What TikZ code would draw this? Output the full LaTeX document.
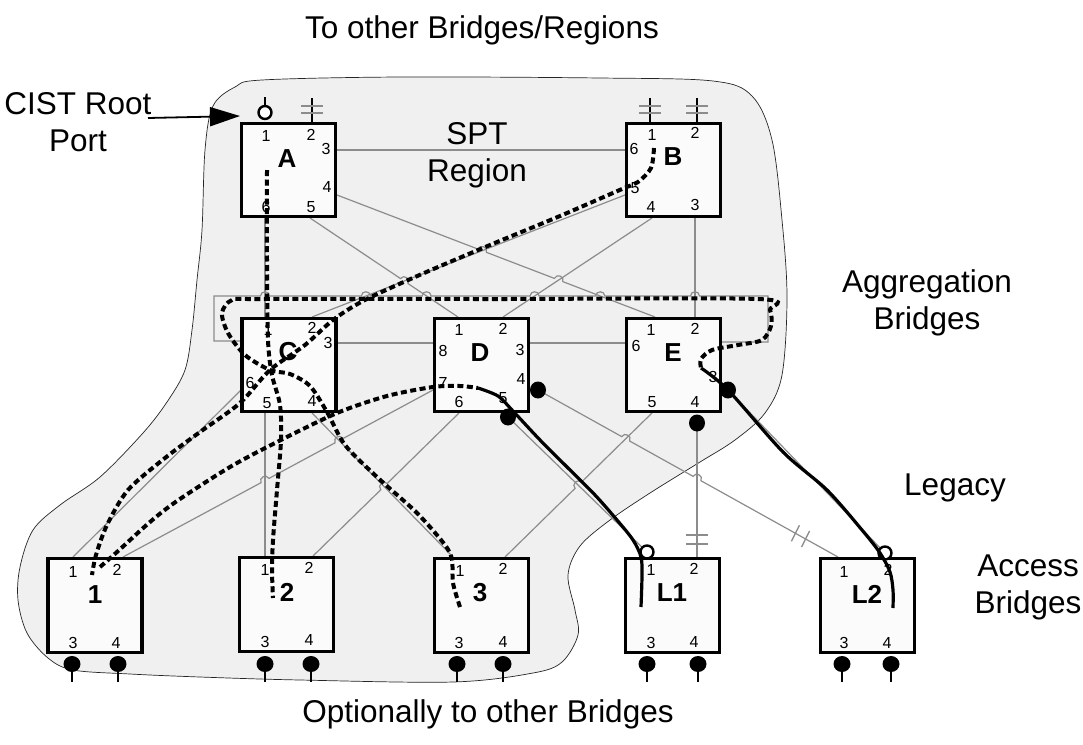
\documentclass[tikz,border=0pt]{standalone}
\usepackage{fontspec}
\setmainfont{Liberation Sans}
\usetikzlibrary{calc,arrows.meta}
\definecolor{regionfill}{gray}{0.94}
\definecolor{linkgray}{gray}{0.55}
\definecolor{boxfill}{gray}{0.985}
\tikzset{
  region/.style={draw=black!85, line width=0.7pt, fill=regionfill},
  link/.style={draw=linkgray, line width=1.2pt},
  tick/.style={draw=linkgray, line width=1.3pt},
  stub/.style={draw=black, line width=1.6pt},
  tree/.style={draw=black, line width=4pt, dash pattern=on 6pt off 3.5pt},
  legacy/.style={draw=black, line width=3.2pt},
  bridge/.style={draw=black, line width=3.2pt, fill=boxfill, minimum width=94pt, minimum height=93.5pt, inner sep=0pt},
  portlbl/.style={inner sep=0pt, font=\fontsize{16}{16}\selectfont},
  bname/.style={inner sep=0pt, font=\bfseries\fontsize{26}{27}\selectfont},
  caption/.style={inner sep=0pt, align=center, font=\fontsize{31.5}{37}\selectfont},
  hop/.style={bend left=90, looseness=1.6},
  opencirc/.style={draw=black, line width=2.4pt, fill=white},
}
\begin{document}
\begin{tikzpicture}[x=1pt,y=-1pt]
\useasboundingbox (0,0) rectangle (1083,744);
% ---------------- region
\draw[region] plot[smooth cycle, tension=0.55] coordinates {
 (202,230) (205,150) (213,106) (235,87) (262,80) (400,77) (600,78) (713,81) (752,96)
 (772,140) (782,220) (787,297) (782,375) (765,413) (735,440) (700,462) (650,493)
 (610,520) (580,546) (568,575) (575,610) (578,635) (562,662) (533,673) (453,682)
 (300,680) (200,677) (130,674) (73,670) (48,658) (27,633) (18,600) (20,567)
 (33,530) (60,505) (100,477) (143,433) (167,402) (185,370) (192,330) (197,280)};
% ---------------- port coordinates
\coordinate (A1) at (265,122); \coordinate (A2) at (312,122); \coordinate (A3) at (337,150);
\coordinate (A4) at (337,195); \coordinate (A5) at (310,218); \coordinate (A6) at (265,218);
\coordinate (B1) at (650,122); \coordinate (B2) at (697,122); \coordinate (B6) at (625,150);
\coordinate (B5) at (625,195); \coordinate (B4) at (652,218); \coordinate (B3) at (695,218);
\coordinate (C1) at (265,317); \coordinate (C2) at (312,317); \coordinate (C3) at (337,343);
\coordinate (C4) at (312,413); \coordinate (C5) at (265,413); \coordinate (C6) at (241,390);
\coordinate (C7) at (241,341);
\coordinate (D1) at (458,317); \coordinate (D2) at (503,317); \coordinate (D8) at (433,343);
\coordinate (D3) at (530,343); \coordinate (D7) at (433,390); \coordinate (D6) at (459,413);
\coordinate (D4d) at (538,390); \coordinate (D5d) at (508,417);
\coordinate (E1) at (655,317); \coordinate (E2) at (695,317); \coordinate (E6) at (625,343);
\coordinate (E5) at (652,413); \coordinate (E4d) at (697,423); \coordinate (E3d) at (728,390);
\coordinate (E7) at (722,342);
\coordinate (P1a) at (73,557); \coordinate (P1b) at (123,557);
\coordinate (P2a) at (265,556); \coordinate (P2b) at (313,556);
\coordinate (P3a) at (453,557); \coordinate (P3b) at (505,557);
\coordinate (L1a) at (647,552); \coordinate (L1b) at (697,557);
\coordinate (L2a) at (838,557); \coordinate (L2b) at (885,553);
\coordinate (RLb) at (214,341); \coordinate (RL) at (214,296);
\coordinate (RR) at (768,296); \coordinate (RRb) at (768,342);
% hop points
\coordinate (h1) at (intersection of A4--E1 and B5--C2);
\coordinate (h2) at (intersection of A5--D1 and B5--C2);
\coordinate (h3) at (intersection of A4--E1 and B4--D2);
\coordinate (r1) at (intersection of RL--RR and A6--C1);
\coordinate (r2) at (intersection of RL--RR and B5--C2);
\coordinate (r3) at (intersection of RL--RR and A5--D1);
\coordinate (r4) at (intersection of RL--RR and B4--D2);
\coordinate (r5) at (intersection of RL--RR and A4--E1);
\coordinate (r6) at (intersection of RL--RR and B3--E2);
\coordinate (g1) at (intersection of P1b--D7 and C5--P2a);
\coordinate (g2) at (intersection of P1b--D7 and C4--P3a);
\coordinate (g3) at (intersection of P2b--D6 and C4--P3a);
\coordinate (g4) at (intersection of P3b--E5 and D5d--L1a);
\coordinate (g5) at (intersection of D4d--L2a and P3b--E5);
\coordinate (g6) at (intersection of D4d--L2a and E4d--L1b);
% ---------------- gray links
\draw[link] (A3) -- (B6);
\draw[link] (A6) -- (C1);
\draw[link] (B3) -- (E2);
\draw[link] (B5) -- (C2);
\draw[link] (B4) -- (D2);
\draw[link] (A5) -- ($(h2)!4.5pt!(A5)$) to[hop] ($(h2)!-4.5pt!(A5)$) -- (D1);
\draw[link] (A4) -- ($(h1)!4.5pt!(A4)$) to[hop] ($(h1)!-4.5pt!(A4)$)
                 -- ($(h3)!4.5pt!(A4)$) to[hop] ($(h3)!-4.5pt!(A4)$) -- (E1);
\draw[link] (C7) -- (RLb) -- (RL)
   -- ($(r1)!4.5pt!(RL)$) to[hop] ($(r1)!-4.5pt!(RL)$)
   -- ($(r2)!4.5pt!(RL)$) to[hop] ($(r2)!-4.5pt!(RL)$)
   -- ($(r3)!4.5pt!(RL)$) to[hop] ($(r3)!-4.5pt!(RL)$)
   -- ($(r4)!4.5pt!(RL)$) to[hop] ($(r4)!-4.5pt!(RL)$)
   -- ($(r5)!4.5pt!(RL)$) to[hop] ($(r5)!-4.5pt!(RL)$)
   -- ($(r6)!4.5pt!(RL)$) to[hop] ($(r6)!-4.5pt!(RL)$)
   -- (RR) -- (RRb) -- (E7);
\draw[link] (C3) -- (D8);
\draw[link] (D3) -- (E6);
\draw[link] (C6) -- (P1a);
\draw[link] (C5) -- (P2a);
\draw[link] (C4) -- (P3a);
\draw[link] (P1b) -- ($(g1)!4.5pt!(P1b)$) to[hop] ($(g1)!-4.5pt!(P1b)$)
                  -- ($(g2)!4.5pt!(P1b)$) to[hop] ($(g2)!-4.5pt!(P1b)$) -- (D7);
\draw[link] (P2b) -- ($(g3)!4.5pt!(P2b)$) to[hop] ($(g3)!-4.5pt!(P2b)$) -- (D6);
\draw[link] (P3b) -- ($(g4)!4.5pt!(P3b)$) to[hop] ($(g4)!-4.5pt!(P3b)$) -- (E5);
\draw[link] (D5d) -- (L1a);
\draw[link] (D4d) -- ($(g5)!4.5pt!(D4d)$) to[hop] ($(g5)!-4.5pt!(D4d)$)
                  -- ($(g6)!4.5pt!(D4d)$) to[hop] ($(g6)!-4.5pt!(D4d)$) -- (L2a);
\draw[link] (E4d) -- (L1b);
\draw[link] (E3d) -- (L2b);
% slashes and ticks on legacy links
\draw[tick] ($(D4d)!0.858!(L2a)$) +(-4,8) -- +(4,-8);
\draw[tick] ($(D4d)!0.892!(L2a)$) +(-4,8) -- +(4,-8);
\draw[tick] ($(L1b)+(-11,-22)$) -- ++(22,0);
\draw[tick] ($(L1b)+(-11,-13)$) -- ++(22,0);
% ---------------- bridges
\node[bridge] (A) at (288.5,170) {};
\node[bridge] (B) at (673.5,170) {};
\node[bridge] (C) at (289,365) {};
\node[bridge] (D) at (481.5,365) {};
\node[bridge] (E) at (673.5,365) {};
\node[bridge] (S1) at (95,605.5) {};
\node[bridge] (S2) at (286.5,604.5) {};
\node[bridge] (S3) at (481.5,605.5) {};
\node[bridge] (SL1) at (672.5,605.5) {};
\node[bridge] (SL2) at (867.5,605.5) {};
% names
\node[bname] (nA) at (287,159) {A};
\node[bname] (nB) at (673,157) {B};
\node[bname] (nC) at (288,352) {C};
\node[bname] (nD) at (480,353) {D};
\node[bname] (nE) at (673,353) {E};
\node[bname] (n1) at (95,595) {1};
\node[bname] (n2) at (287,592) {2};
\node[bname] (n3) at (480,593) {3};
\node[bname] (nL1) at (672,593) {L1};
\node[bname] (nL2) at (867,594) {L2};
% port numbers
\node[portlbl] (a1) at (266,136) {1}; \node[portlbl] (a2) at (311,135) {2};
\node[portlbl] (a3) at (326,149) {3}; \node[portlbl] (a4) at (327,187) {4};
\node[portlbl] (a5) at (311,207) {5}; \node[portlbl] (a6) at (266,207) {6};
\node[portlbl] (b1) at (652,135) {1}; \node[portlbl] (b2) at (695,133) {2};
\node[portlbl] (b6) at (634,149) {6}; \node[portlbl] (b5) at (635,188) {5};
\node[portlbl] (b4) at (651,207) {4}; \node[portlbl] (b3) at (695,205) {3};
\node[portlbl] (c1) at (268,330) {1}; \node[portlbl] (c2) at (312,328) {2};
\node[portlbl] (c3) at (328,343) {3}; \node[portlbl] (c6) at (250,383) {6};
\node[portlbl] (c5) at (267,403) {5}; \node[portlbl] (c4) at (312,401) {4};
\node[portlbl] (d1) at (459,330) {1}; \node[portlbl] (d2) at (503,329) {2};
\node[portlbl] (d8) at (443,351) {8}; \node[portlbl] (d3) at (520,350) {3};
\node[portlbl] (d7) at (443,383) {7}; \node[portlbl] (d4) at (521,379) {4};
\node[portlbl] (d6) at (459,402) {6}; \node[portlbl] (d5) at (503,398) {5};
\node[portlbl] (e1) at (651,330) {1}; \node[portlbl] (e2) at (695,329) {2};
\node[portlbl] (e6) at (636,346) {6}; \node[portlbl] (e3) at (713,377) {3};
\node[portlbl] (e5) at (652,402) {5}; \node[portlbl] (e4) at (695,402) {4};
\node[portlbl] (s11) at (73,572) {1}; \node[portlbl] (s12) at (117,570) {2};
\node[portlbl] (s13) at (73,643) {3}; \node[portlbl] (s14) at (116,643) {4};
\node[portlbl] (s21) at (265,570) {1}; \node[portlbl] (s22) at (309,568) {2};
\node[portlbl] (s23) at (265,642) {3}; \node[portlbl] (s24) at (309,640) {4};
\node[portlbl] (s31) at (460,571) {1}; \node[portlbl] (s32) at (503,569) {2};
\node[portlbl] (s33) at (459,643) {3}; \node[portlbl] (s34) at (503,642) {4};
\node[portlbl] (l11) at (651,570) {1}; \node[portlbl] (l12) at (694,569) {2};
\node[portlbl] (l13) at (651,643) {3}; \node[portlbl] (l14) at (694,642) {4};
\node[portlbl] (l21) at (844,572) {1}; \node[portlbl] (l22) at (888,570) {2};
\node[portlbl] (l23) at (844,643) {3}; \node[portlbl] (l24) at (887,643) {4};
% ---------------- top port stubs
\draw[stub] (265,106.5) -- (265,97);
\draw[opencirc] (265,112.5) circle [radius=6.5pt];
\foreach \p in {A2,B1,B2} {
  \draw[stub] (\p) -- ++(0,-24);
  \draw[tick] ($(\p)+(-11,-16)$) -- ++(22,0);
  \draw[tick] ($(\p)+(-11,-9)$) -- ++(22,0);
}
% ---------------- open circles on legacy ports
\draw[opencirc] (L1a) circle [radius=6.5pt];
\draw[opencirc] (L2b) circle [radius=6.5pt];
% ---------------- spanning tree paths (dashed)
\draw[tree] plot[smooth, tension=0.5] coordinates {
 (267,170) (267,260) (268,340) (272,375) (280,405) (281,440) (277,490) (273,540) (272,570) (273,598)};
\draw[tree] plot[smooth, tension=0.5] coordinates {
 (654,148) (651,168) (638,182) (622,189) (560,216) (490,245) (415,277) (363,301) (333,320)
 (305,345) (270,370) (240,403) (200,432) (165,458) (128,490) (107,525) (96,555) (92,575)};
\draw[tree] plot[smooth, tension=0.5] coordinates {
 (460,607) (453,583) (452,560) (445,545) (417,513) (377,477) (345,445) (327,412) (310,386)
 (290,374) (270,370) (245,355) (228,333) (222,313) (232,300) (260,299) (500,299) (758,299)
 (770,310) (771,326) (762,340) (738,345) (712,350) (701,359) (701,368)};
\draw[tree] plot[smooth, tension=0.5] coordinates {
 (100,567) (117,552) (150,522) (177,501) (230,467) (277,442) (337,413) (387,396) (433,387)
 (460,386) (478,388)};
% ---------------- legacy paths (solid)
\draw[legacy] plot[smooth, tension=0.5] coordinates {
 (478,388) (498,396) (512,410) (540,440) (567,467) (595,495) (617,520) (633,540) (641,557)
 (642,575) (641,607)};
\draw[legacy] plot[smooth, tension=0.5] coordinates {
 (701,368) (728,390) (783,452) (827,490) (862,530) (880,553) (890,572) (893,590) (893,608)};
% ---------------- filled port dots
\fill (D4d) ellipse [x radius=8pt, y radius=8.5pt];
\fill (D5d) ellipse [x radius=8pt, y radius=8.5pt];
\fill (E4d) ellipse [x radius=8pt, y radius=8.5pt];
\fill (E3d) ellipse [x radius=8pt, y radius=8.5pt];
\foreach \x in {72,118,265,311,457,503,647,698,842,891} {
  \fill (\x,664) ellipse [x radius=8.5pt, y radius=8pt];
  \draw[stub] (\x,664) -- (\x,682);
}
% ---------------- CIST arrow
\coordinate (cistfrom) at (148,118);
\draw[line width=1.8pt, -{Triangle[length=30pt,width=19pt]}] (cistfrom) -- (240,116);
% ---------------- captions
\node[caption] (top) at (482,30) {To other Bridges/Regions};
\node[caption] (bot) at (488,714) {Optionally to other Bridges};
\node[caption] (cist) at (78,122) {CIST Root\\Port};
\node[caption] (spt) at (477,155) {SPT\\Region};
\node[caption] (agg) at (927,303) {Aggregation\\Bridges};
\node[caption] (leg) at (955,488) {Legacy};
\node[caption] (acc) at (1028,587) {Access\\Bridges};
\end{tikzpicture}
\end{document}
